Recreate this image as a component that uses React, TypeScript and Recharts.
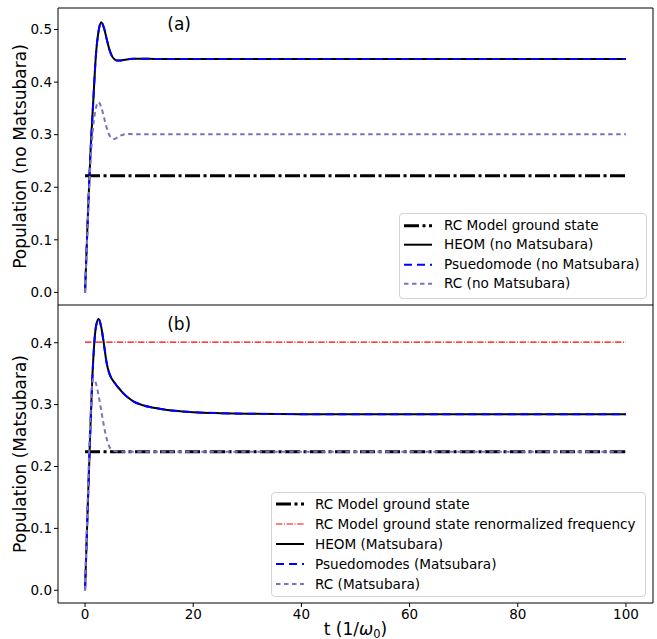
import React from 'react';
import { LineChart, Line, XAxis, YAxis, ReferenceLine, ReferenceArea, ReferenceDot, Legend } from 'recharts';

// time grid (1/omega_0) shared by every curve
const times = [0, 0.5, 1, 1.5, 2, 2.5, 3, 3.5, 4, 4.5, 5, 5.5, 6, 6.5, 7, 8, 9, 10, 12, 14, 16, 18, 20, 25, 30, 40, 50, 60, 70, 80, 90, 100];

// panel (a): no Matsubara
const heomNoMats = [0, 0.14, 0.265, 0.36, 0.45, 0.497, 0.514, 0.503, 0.482, 0.462, 0.449, 0.443, 0.441, 0.441, 0.442, 0.4435, 0.4445, 0.4445, 0.4443, 0.444, 0.444, 0.444, 0.444, 0.444, 0.444, 0.444, 0.444, 0.444, 0.444, 0.444, 0.444, 0.444];
const pseudoNoMats = [0, 0.14, 0.265, 0.36, 0.45, 0.497, 0.514, 0.503, 0.482, 0.462, 0.449, 0.443, 0.441, 0.441, 0.442, 0.4435, 0.4445, 0.4445, 0.4443, 0.444, 0.444, 0.444, 0.444, 0.444, 0.444, 0.444, 0.444, 0.444, 0.444, 0.444, 0.444, 0.444];
const rcNoMats = [0, 0.13, 0.245, 0.315, 0.35, 0.362, 0.352, 0.333, 0.313, 0.299, 0.293, 0.292, 0.295, 0.298, 0.3, 0.3015, 0.301, 0.301, 0.301, 0.301, 0.301, 0.301, 0.301, 0.301, 0.301, 0.301, 0.301, 0.301, 0.301, 0.301, 0.301, 0.301];
const groundStateNoMats = 0.222;

// panel (b): Matsubara
const heomMats = [0, 0.135, 0.265, 0.37, 0.425, 0.4385, 0.425, 0.397, 0.367, 0.35, 0.341, 0.335, 0.329, 0.324, 0.319, 0.311, 0.305, 0.301, 0.296, 0.293, 0.2905, 0.289, 0.2878, 0.2862, 0.2853, 0.2846, 0.2844, 0.2843, 0.2843, 0.2843, 0.2843, 0.2843];
const pseudoMats = [0, 0.135, 0.265, 0.37, 0.425, 0.4385, 0.425, 0.397, 0.367, 0.35, 0.341, 0.335, 0.329, 0.324, 0.319, 0.311, 0.305, 0.301, 0.296, 0.293, 0.2905, 0.289, 0.2878, 0.2862, 0.2853, 0.2846, 0.2844, 0.2843, 0.2843, 0.2843, 0.2843, 0.2843];
const rcMats = [0, 0.15, 0.28, 0.342, 0.335, 0.315, 0.29, 0.265, 0.245, 0.232, 0.227, 0.225, 0.2243, 0.224, 0.224, 0.224, 0.224, 0.224, 0.224, 0.224, 0.224, 0.224, 0.224, 0.224, 0.224, 0.224, 0.224, 0.224, 0.224, 0.224, 0.224, 0.224];
const groundStateMats = 0.224;
const groundStateRenorm = 0.401;

const xTicks = [0, 20, 40, 60, 80, 100];
const yTicksTop = [0, 0.1, 0.2, 0.3, 0.4, 0.5];
const yTicksBottom = [0, 0.1, 0.2, 0.3, 0.4];

const tStart = times[0];
const tEnd = times[times.length - 1];
const xDomain = [-5, 105];
const yDomainTop = [-0.024, 0.541];
const yDomainBottom = [-0.0206, 0.461];

const dataTop = times.map((t, i) => ({ t, heom: heomNoMats[i], pseudo: pseudoNoMats[i], rc: rcNoMats[i] }));
const dataBottom = times.map((t, i) => ({ t, heom: heomMats[i], pseudo: pseudoMats[i], rc: rcMats[i] }));

const PURPLE = '#7a72c2';
const styles = {
  ground: { stroke: '#000', strokeWidth: 3, strokeDasharray: '15 3.5 3 3.5' },
  renorm: { stroke: '#ff0000', strokeWidth: 1.2, strokeDasharray: '6.4 1.6 1 1.6' },
  heom: { stroke: '#000', strokeWidth: 2 },
  pseudo: { stroke: '#0000ff', strokeWidth: 2, strokeDasharray: '8 5' },
  rc: { stroke: PURPLE, strokeWidth: 2, strokeDasharray: '4.5 3.5' },
};

const legendTop = [
  { label: 'RC Model ground state', ...styles.ground },
  { label: 'HEOM (no Matsubara)', ...styles.heom },
  { label: 'Psuedomode (no Matsubara)', ...styles.pseudo },
  { label: 'RC (no Matsubara)', ...styles.rc },
];
const legendBottom = [
  { label: 'RC Model ground state', ...styles.ground },
  { label: 'RC Model ground state renormalized frequency', ...styles.renorm },
  { label: 'HEOM (Matsubara)', ...styles.heom },
  { label: 'Psuedomodes (Matsubara)', ...styles.pseudo },
  { label: 'RC (Matsubara)', ...styles.rc },
];

const tickStyle = { fill: '#000', fontSize: 13.5 };

const LegendBox = ({ items, width, height, rowHeight, padTop, sampleLeft, textLeft }: any) => (
  <div
    style={{
      width, height, boxSizing: 'border-box', border: '1px solid #d4d4d4', borderRadius: 4,
      background: 'rgba(255,255,255,0.85)', paddingTop: padTop, fontFamily: 'DejaVu Sans', color: '#000',
    }}
  >
    {items.map((item: any) => (
      <div key={item.label} style={{ position: 'relative', height: rowHeight, whiteSpace: 'nowrap' }}>
        <svg width={28} height={rowHeight} style={{ position: 'absolute', left: sampleLeft, top: 0 }}>
          <line x1={0} x2={28} y1={rowHeight / 2} y2={rowHeight / 2}
            stroke={item.stroke} strokeWidth={item.strokeWidth} strokeDasharray={item.strokeDasharray} />
        </svg>
        <span style={{ position: 'absolute', left: textLeft, top: 0, fontSize: 13.6, lineHeight: `${rowHeight}px` }}>
          {item.label}
        </span>
      </div>
    ))}
  </div>
);

const yLabel = (text: string) => (props: any) => {
  const vb = props.viewBox;
  const cy = vb.y + vb.height / 2;
  return (
    <text x={19.5} y={cy} transform={`rotate(-90, 19.5, ${cy})`} textAnchor="middle"
      dominantBaseline="central" fontSize={17} fill="#000">
      {text}
    </text>
  );
};

const xLabel = (props: any) => {
  const vb = props.viewBox;
  return (
    <text x={vb.x + vb.width / 2} y={vb.y + 32} textAnchor="middle" fontSize={17} fill="#000">
      <tspan>t (1/</tspan>
      <tspan fontStyle="italic">ω</tspan>
      <tspan fontSize={11.5} dy={3}>0</tspan>
      <tspan dy={-3}>)</tspan>
    </text>
  );
};

export default function App() {
  return (
    <div style={{ position: 'absolute', left: 0, top: 0, width: 657, height: 639, background: '#fff', fontFamily: 'DejaVu Sans' }}>
      <div style={{ position: 'absolute', left: 0, top: 0 }}>
        <LineChart width={657} height={305} data={dataTop} margin={{ top: 8, right: 4, bottom: 0, left: 0 }}>
          <XAxis type="number" dataKey="t" domain={xDomain} ticks={xTicks} hide allowDataOverflow />
          <YAxis type="number" domain={yDomainTop} ticks={yTicksTop} width={58} axisLine={false}
            tickLine={{ stroke: '#000' }} tickSize={4} tickMargin={2} tick={tickStyle}
            tickFormatter={(v: number) => v.toFixed(1)} allowDataOverflow
            label={{ content: yLabel('Population (no Matsubara)') }} />
          <ReferenceLine segment={[{ x: tStart, y: groundStateNoMats }, { x: tEnd, y: groundStateNoMats }]} {...styles.ground} />
          <Line type="monotone" dataKey="heom" dot={false} isAnimationActive={false} {...styles.heom} />
          <Line type="monotone" dataKey="pseudo" dot={false} isAnimationActive={false} {...styles.pseudo} />
          <Line type="monotone" dataKey="rc" dot={false} isAnimationActive={false} {...styles.rc} />
          <ReferenceDot x={17.4} y={0.511} r={0} fill="none" stroke="none"
            label={{ value: '(a)', position: 'center', fontSize: 17, fill: '#000' }} />
          <ReferenceArea x1={xDomain[0]} x2={xDomain[1]} y1={yDomainTop[0]} y2={yDomainTop[1]}
            fill="none" stroke="#000" strokeWidth={1} ifOverflow="visible" />
          <Legend layout="vertical" align="center" verticalAlign="middle" width={248} height={86}
            wrapperStyle={{ left: 399, top: 213, width: 248, height: 86 }}
            content={() => <LegendBox items={legendTop} width={248} height={86} rowHeight={19.4} padTop={2} sampleLeft={4} textLeft={44} />} />
        </LineChart>
      </div>
      <div style={{ position: 'absolute', left: 0, top: 305 }}>
        <LineChart width={657} height={334} data={dataBottom} margin={{ top: 0, right: 4, bottom: 0, left: 0 }}>
          <XAxis type="number" dataKey="t" domain={xDomain} ticks={xTicks} height={36} axisLine={false}
            tickLine={{ stroke: '#000' }} tickSize={4} tickMargin={2} tick={tickStyle} allowDataOverflow
            label={{ content: xLabel }} />
          <YAxis type="number" domain={yDomainBottom} ticks={yTicksBottom} width={58} axisLine={false}
            tickLine={{ stroke: '#000' }} tickSize={4} tickMargin={2} tick={tickStyle}
            tickFormatter={(v: number) => v.toFixed(1)} allowDataOverflow
            label={{ content: yLabel('Population (Matsubara)') }} />
          <ReferenceLine segment={[{ x: tStart, y: groundStateMats }, { x: tEnd, y: groundStateMats }]} {...styles.ground} />
          <ReferenceLine segment={[{ x: tStart, y: groundStateRenorm }, { x: tEnd, y: groundStateRenorm }]} {...styles.renorm} />
          <Line type="monotone" dataKey="heom" dot={false} isAnimationActive={false} {...styles.heom} />
          <Line type="monotone" dataKey="pseudo" dot={false} isAnimationActive={false} {...styles.pseudo} />
          <Line type="monotone" dataKey="rc" dot={false} isAnimationActive={false} {...styles.rc} />
          <ReferenceDot x={17.4} y={0.43} r={0} fill="none" stroke="none"
            label={{ value: '(b)', position: 'center', fontSize: 17, fill: '#000' }} />
          <ReferenceArea x1={xDomain[0]} x2={xDomain[1]} y1={yDomainBottom[0]} y2={yDomainBottom[1]}
            fill="none" stroke="#000" strokeWidth={1} ifOverflow="visible" />
          <Legend layout="vertical" align="center" verticalAlign="middle" width={375} height={105}
            wrapperStyle={{ left: 271, top: 187, width: 375, height: 105 }}
            content={() => <LegendBox items={legendBottom} width={375} height={105} rowHeight={20} padTop={1} sampleLeft={4} textLeft={43} />} />
        </LineChart>
      </div>
    </div>
  );
}
